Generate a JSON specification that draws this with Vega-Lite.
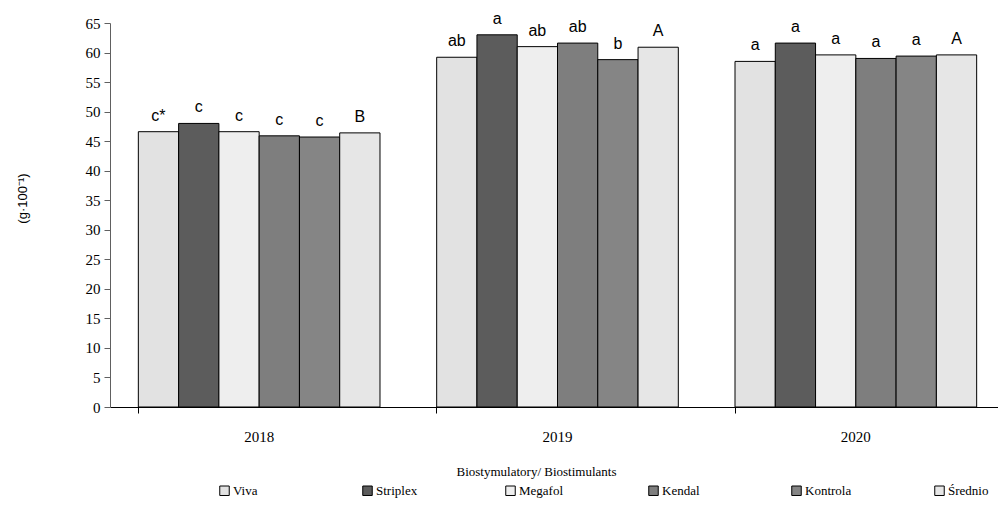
{
  "$schema": "https://vega.github.io/schema/vega-lite/v6.json",
  "width": 888,
  "height": 384,
  "autosize": {"type": "none"},
  "padding": {"left": 110, "top": 23, "right": 0, "bottom": 115},
  "background": "white",
  "config": {"view": {"stroke": null}},
  "data": {"values": [
    {"year": "2018", "treatment": "Viva", "value": 46.6, "label": "c*"},
    {"year": "2018", "treatment": "Striplex", "value": 48.0, "label": "c"},
    {"year": "2018", "treatment": "Megafol", "value": 46.6, "label": "c"},
    {"year": "2018", "treatment": "Kendal", "value": 45.9, "label": "c"},
    {"year": "2018", "treatment": "Kontrola", "value": 45.7, "label": "c"},
    {"year": "2018", "treatment": "Średnio", "value": 46.4, "label": "B"},
    {"year": "2019", "treatment": "Viva", "value": 59.2, "label": "ab"},
    {"year": "2019", "treatment": "Striplex", "value": 63.0, "label": "a"},
    {"year": "2019", "treatment": "Megafol", "value": 61.0, "label": "ab"},
    {"year": "2019", "treatment": "Kendal", "value": 61.6, "label": "ab"},
    {"year": "2019", "treatment": "Kontrola", "value": 58.8, "label": "b"},
    {"year": "2019", "treatment": "Średnio", "value": 60.9, "label": "A"},
    {"year": "2020", "treatment": "Viva", "value": 58.5, "label": "a"},
    {"year": "2020", "treatment": "Striplex", "value": 61.6, "label": "a"},
    {"year": "2020", "treatment": "Megafol", "value": 59.6, "label": "a"},
    {"year": "2020", "treatment": "Kendal", "value": 59.0, "label": "a"},
    {"year": "2020", "treatment": "Kontrola", "value": 59.4, "label": "a"},
    {"year": "2020", "treatment": "Średnio", "value": 59.6, "label": "A"}
  ]},
  "encoding": {
    "x": {
      "field": "year", "type": "nominal",
      "scale": {"paddingInner": 0.19, "paddingOuter": 0.095, "range": [0, 895]},
      "axis": {
        "title": "Biostymulatory/ Biostimulants",
        "titleFont": "Liberation Serif", "titleFontSize": 13, "titleFontWeight": "normal", "titleColor": "#000",
        "titleX": 426, "titleY": 64, "titleBaseline": "middle", "titleAnchor": null, "titleAlign": "center",
        "labelAngle": 0, "labelFont": "Liberation Serif", "labelFontSize": 15, "labelColor": "#000",
        "labelPadding": 16, "labelBaseline": "top",
        "bandPosition": 0, "tickSize": 6, "tickColor": "#000", "domainColor": "#000", "grid": false
      }
    },
    "xOffset": {
      "field": "treatment", "type": "nominal",
      "sort": ["Viva", "Striplex", "Megafol", "Kendal", "Kontrola", "Średnio"],
      "scale": {"paddingInner": 0, "paddingOuter": 0}
    },
    "y": {
      "field": "value", "type": "quantitative",
      "scale": {"domain": [0, 65], "nice": false},
      "axis": {
        "title": "(g·100⁻¹)",
        "titleFont": "Liberation Sans", "titleFontSize": 13, "titleFontWeight": "normal", "titleColor": "#000",
        "titleX": -88, "titleY": 175, "titleAnchor": null, "titleAlign": "center", "titleBaseline": "middle",
        "values": [0,5,10,15,20,25,30,35,40,45,50,55,60,65],
        "labelFont": "Liberation Serif", "labelFontSize": 15, "labelColor": "#000", "labelPadding": 4,
        "tickSize": 6, "tickColor": "#606060", "domainColor": "#606060", "grid": false
      }
    }
  },
  "layer": [
    {
      "mark": {"type": "bar", "stroke": "#000", "strokeWidth": 1},
      "encoding": {
        "fill": {
          "field": "treatment", "type": "nominal",
          "sort": ["Viva", "Striplex", "Megafol", "Kendal", "Kontrola", "Średnio"],
          "scale": {
            "domain": ["Viva", "Striplex", "Megafol", "Kendal", "Kontrola", "Średnio"],
            "range": ["#e2e2e2", "#5c5c5c", "#eeeeee", "#7e7e7e", "#858585", "#e6e6e6"]
          },
          "legend": {
            "title": null, "orient": "none", "direction": "horizontal", "columns": 6,
            "legendX": 108, "legendY": 461,
            "symbolType": "square", "symbolSize": 90, "symbolStrokeColor": "#000", "symbolStrokeWidth": 1,
            "labelFont": "Liberation Serif", "labelFontSize": 13, "labelColor": "#000", "labelOffset": 2,
            "gridAlign": "all", "columnPadding": 80
          }
        }
      }
    },
    {
      "mark": {"type": "text", "baseline": "alphabetic", "dy": -11, "font": "Liberation Sans", "fontSize": 16, "color": "#000"},
      "encoding": {"text": {"field": "label"}}
    }
  ]
}
